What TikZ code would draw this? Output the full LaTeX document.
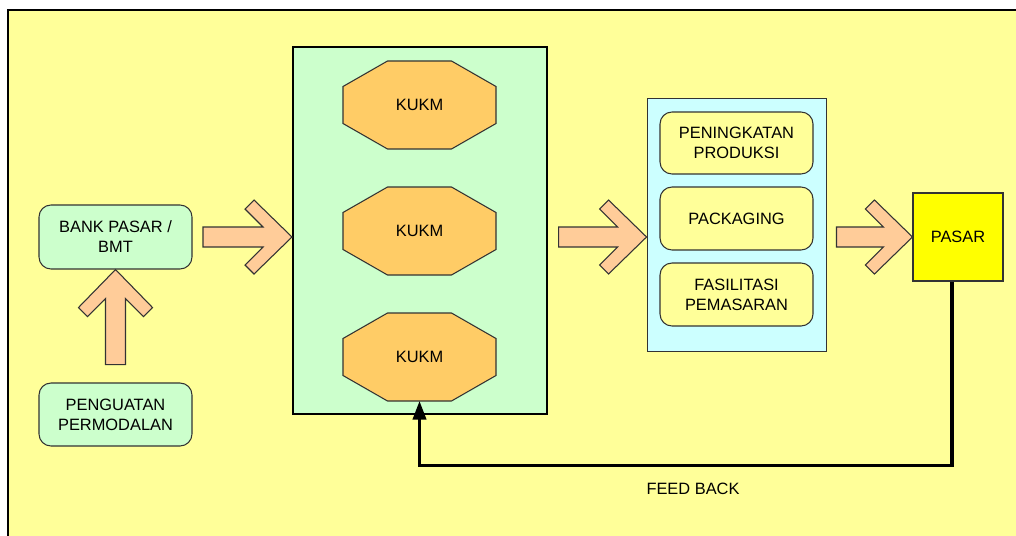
\documentclass[tikz,border=0pt]{standalone}
\usepackage{fontspec}
\setmainfont{Liberation Sans}
\usetikzlibrary{arrows.meta,calc}

\definecolor{bgyellow}{HTML}{FFFF99}
\definecolor{boxgreen}{HTML}{CCFFCC}
\definecolor{octorange}{HTML}{FFCC66}
\definecolor{arrowpeach}{HTML}{FFCC99}
\definecolor{boxcyan}{HTML}{CCFFFF}
\definecolor{pasaryellow}{HTML}{FFFF00}
\definecolor{edgegray}{HTML}{333333}

\tikzset{
  every node/.style={font=\fontsize{12.3}{15}\selectfont, align=center, inner sep=0pt},
  rbox/.style={draw=edgegray, line width=0.8pt, rounded corners=9pt,
               minimum width=114.75pt},
  octshape/.style={draw=edgegray, line width=0.8pt, fill=octorange},
  blockarrow/.style={draw=edgegray, line width=0.8pt, fill=arrowpeach, line join=miter},
  % hollow-headed block arrow, tip at the pic origin, tail #1 units back
  chev/.pic={
    \draw[blockarrow] (0,0) -- (-38,-37) -- (-47,-28) -- (-29,-10) -- (-#1,-10)
      -- (-#1,10) -- (-29,10) -- (-47,28) -- (-38,37) -- cycle;
  },
  % stretched octagon with its label
  kukm/.pic={
    \draw[octshape] (-76.5,-18.5) -- (-32,-44) -- (32,-44) -- (76.5,-18.5)
      -- (76.5,18.5) -- (32,44) -- (-32,44) -- (-76.5,18.5) -- cycle;
    \node (-c) at (0,0) {KUKM};
    \coordinate (-bot) at (0,44);
  },
}

\begin{document}
\begin{tikzpicture}[x=0.75pt, y=-0.75pt]
  \clip (0,0) rectangle (1016,535);
  \useasboundingbox (0,0) rectangle (1016,535);

  % outer frame
  \fill[bgyellow] (8,10) rectangle (1030,545);
  \draw[line width=1.6pt] (8,545) -- (8,10) -- (1030,10);

  % funding side
  \node[rbox, fill=boxgreen, minimum height=48pt] (bank) at (115.5,237) {BANK PASAR /\\BMT};
  \node[rbox, fill=boxgreen, minimum height=47.25pt] (modal) at (115.5,414.5) {PENGUATAN\\PERMODALAN};

  % KUKM group
  \node[draw, line width=1.5pt, fill=boxgreen, minimum width=190.5pt, minimum height=275.25pt] (kgroup) at (420,230.5) {};
  \pic (k1) at (419.5,105) {kukm};
  \pic (k2) at (419.5,231) {kukm};
  \pic (k3) at (419.5,357) {kukm};

  % support programmes
  \node[draw=edgegray, line width=0.7pt, fill=boxcyan, minimum width=134.25pt, minimum height=189.75pt] (support) at (736.5,224.5) {};
  \node[rbox, fill=bgyellow, minimum height=46.5pt] (prod) at (736.5,143) {PENINGKATAN\\PRODUKSI};
  \node[rbox, fill=bgyellow, minimum height=47.25pt] (pack) at (736.5,218.5) {PACKAGING};
  \node[rbox, fill=bgyellow, minimum height=47.25pt] (fasil) at (736.5,294.5) {FASILITASI\\PEMASARAN};

  % market
  \node[draw=edgegray, line width=0.8pt, fill=pasaryellow, minimum width=67.5pt, minimum height=66pt] (pasar) at (958,237) {PASAR};

  % block arrows between stages
  \pic[rotate=90] at (bank.south) {chev=95};
  \pic at (kgroup.west |- bank.east) {chev=89};
  \pic at (support.west |- pasar.west) {chev=88};
  \pic at (pasar.west) {chev=76};

  % feedback loop
  \draw[line width=2.3pt, -{Triangle[length=14pt,width=10pt]}]
    ([xshift=-4.5pt]pasar.south) -- ++(0,184) -| (k3-bot);
  \node (fb) at (693,489) {FEED BACK};
\end{tikzpicture}
\end{document}
